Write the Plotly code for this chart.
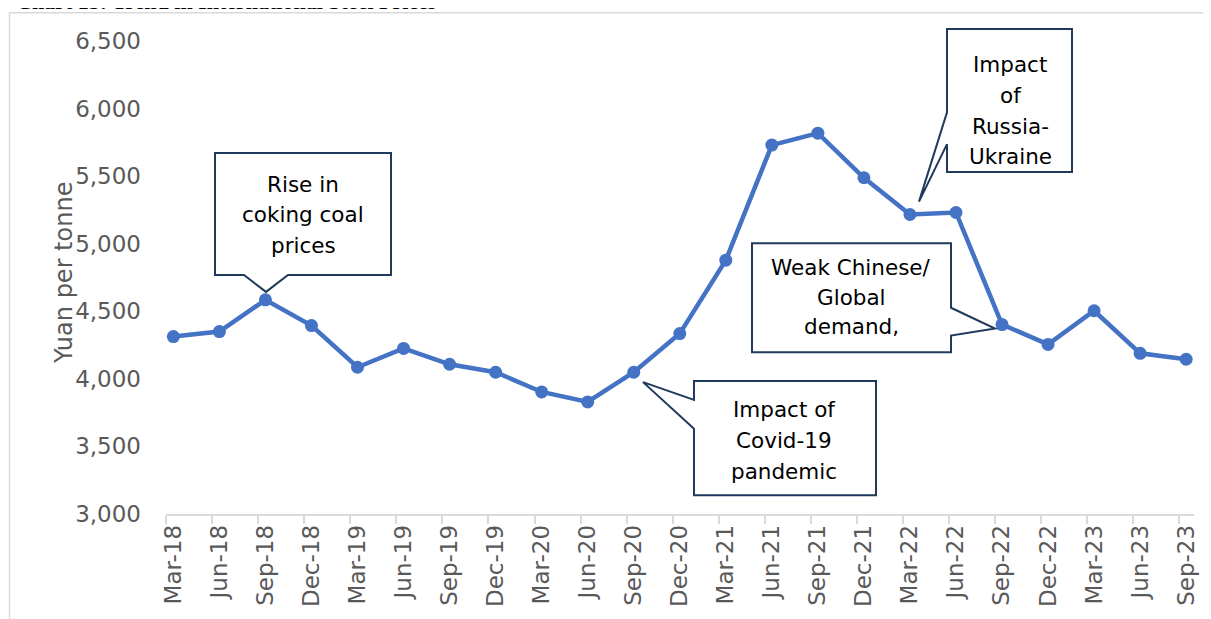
import plotly.graph_objects as go

# ---- data ----
categories = ["Mar-18", "Jun-18", "Sep-18", "Dec-18", "Mar-19", "Jun-19", "Sep-19", "Dec-19",
              "Mar-20", "Jun-20", "Sep-20", "Dec-20", "Mar-21", "Jun-21", "Sep-21", "Dec-21",
              "Mar-22", "Jun-22", "Sep-22", "Dec-22", "Mar-23", "Jun-23", "Sep-23"]
prices = [4313, 4350, 4585, 4394, 4086, 4225, 4108, 4049,
          3903, 3829, 4049, 4335, 4878, 5730, 5818, 5488,
          5216, 5231, 4402, 4255, 4504, 4189, 4145]
y_ticks = [3000, 3500, 4000, 4500, 5000, 5500, 6000, 6500]
y_tick_text = ["3,000", "3,500", "4,000", "4,500", "5,000", "5,500", "6,000", "6,500"]
title_text = "Chart 15: Trend in International Steel Prices"
y_title = "Yuan per tonne"

callouts = [
    ["Rise in", "coking coal", "prices"],
    ["Impact of", "Covid-19", "pandemic"],
    ["Impact", "of", "Russia-", "Ukraine"],
    ["Weak Chinese/", "Global", "demand,"],
]

# ---- layout geometry (page pixels; the page body has an 8px margin) ----
PAGE_W, PAGE_H = 1211, 619
OFF = 8
W, H = PAGE_W - OFF, PAGE_H - OFF
L, R, T, B = 166, 1194, 41, 518

def px(x):
    return (x - L) / (R - L)

def py(y):
    return (B - y) / (B - T)

def path(points):
    return "M " + " L ".join(f"{px(x):.5f},{py(y):.5f}" for x, y in points) + " Z"

FONT = "DejaVu Sans"
idx = list(range(len(categories)))

fig = go.Figure()
fig.add_trace(go.Scatter(
    x=idx, y=prices, mode="lines+markers",
    line=dict(color="#4472c4", width=4.5),
    marker=dict(color="#4472c4", size=13),
    hoverinfo="skip", showlegend=False,
))

shapes = []
# outer frame
shapes.append(dict(type="rect", xref="paper", yref="paper",
                   x0=px(9.5), y0=py(640), x1=px(1230), y1=py(12.5),
                   line=dict(color="#d9d9d9", width=1.5), fillcolor="rgba(0,0,0,0)", layer="below"))

box_line = dict(color="#1f3a5c", width=2)
callout_paths = [
    [(215, 154), (391, 154), (391, 277), (288, 277), (266, 294), (244, 277), (215, 277)],
    [(694, 384), (876, 384), (876, 499), (694, 499), (694, 432), (643, 385), (694, 403)],
    [(947, 29), (1072, 29), (1072, 173), (947, 173), (947, 145), (919, 203), (947, 113)],
    [(752, 245), (951, 245), (951, 310), (995, 331), (951, 338), (951, 355), (752, 355)],
]
for pts in callout_paths:
    shapes.append(dict(type="path", xref="paper", yref="paper", path=path(pts),
                       line=box_line, fillcolor="white", layer="above"))

annotations = []
text_pos = [
    (303, [186, 216, 247]),
    (784, [413, 444, 475]),
    (1010, [65, 96, 127, 157]),
    (851, [269, 300, 329]),
]
for lines, (cx, ys) in zip(callouts, text_pos):
    for line, yy in zip(lines, ys):
        annotations.append(dict(xref="paper", yref="paper", x=px(cx), y=py(yy),
                                text=line, showarrow=False, xanchor="center", yanchor="middle",
                                font=dict(family=FONT, size=21.5, color="#000000")))

# y-axis title
annotations.append(dict(xref="paper", yref="paper", x=px(64), y=py(275), text=y_title,
                        textangle=-90, showarrow=False, xanchor="center", yanchor="middle",
                        font=dict(family=FONT, size=24, color="#595959")))
# chart title, clipped at the top edge as in the source
annotations.append(dict(xref="paper", yref="paper", x=px(14), y=py(15.5), text="<b>" + title_text + "</b>",
                        showarrow=False, xanchor="left", yanchor="bottom",
                        font=dict(family="Liberation Serif", size=22, color="#000000")))

fig.update_layout(
    width=W, height=H,
    margin=dict(l=L - OFF, r=PAGE_W - R, t=T - OFF, b=PAGE_H - B),
    paper_bgcolor="white", plot_bgcolor="white",
    shapes=shapes, annotations=annotations,
    xaxis=dict(
        range=[-0.16, 22.17], tickmode="array", tickvals=idx, ticktext=categories,
        tickangle=-90, ticks="", showgrid=False, zeroline=False,
        showline=True, linecolor="#d9d9d9", linewidth=1.5,
        tickfont=dict(family=FONT, size=23, color="#595959"),
        minor=dict(ticks="outside", tick0=-0.155, dtick=1, ticklen=8,
                   tickcolor="#d9d9d9", tickwidth=1.5, showgrid=False),
        fixedrange=True,
    ),
    yaxis=dict(
        range=[3000, 6500], tickmode="array", tickvals=y_ticks, ticktext=y_tick_text,
        showgrid=False, zeroline=False, showline=False, ticks="",
        tickfont=dict(family=FONT, size=23, color="#595959"),
        ticklabelstandoff=24, fixedrange=True,
    ),
    font=dict(family=FONT),
)

fig.write_html("out.html")
